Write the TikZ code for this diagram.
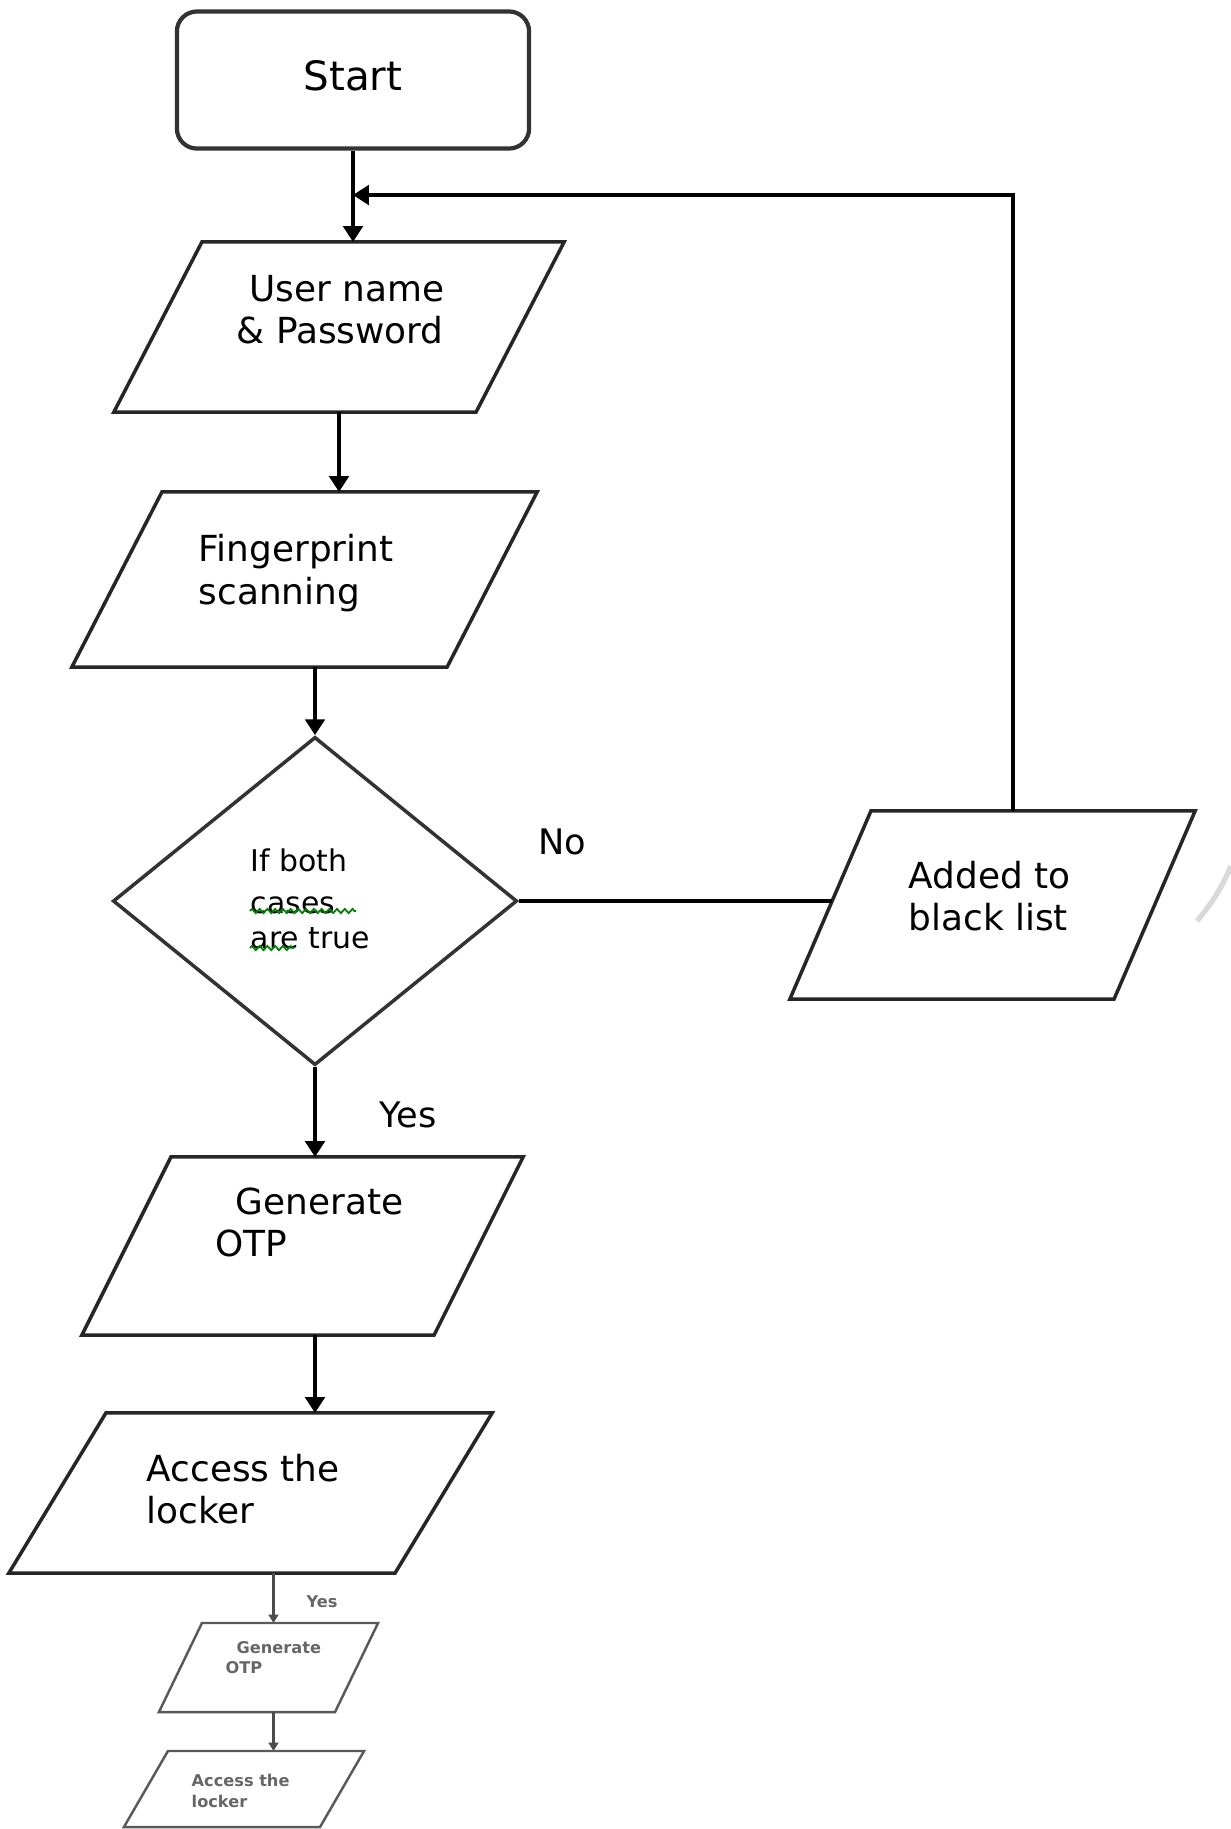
\documentclass[tikz,border=0pt]{standalone}
\usepackage{fontspec}
\setmainfont{DejaVu Sans}
\usetikzlibrary{shapes.geometric,arrows.meta,decorations.pathmorphing}

\tikzset{
	arr/.style={-{Triangle[width=5.5pt,length=4.5pt]}, line width=1.1pt},
	sarr/.style={-{Triangle[width=2.8pt,length=2.4pt]}, line width=0.7pt, black!70},
	boxline/.style={draw=black!85, line width=1pt},
	sboxline/.style={draw=black!65, line width=0.7pt},
	txt/.style={inner sep=0pt, anchor=west, align=left, font=\fontsize{10.2}{12}\selectfont},
	stxt/.style={txt, text=black!60, font=\bfseries\fontsize{4.6}{5.8}\selectfont},
	spell/.style={green!50!black, line width=0.5pt, decorate, decoration={zigzag, amplitude=0.6pt, segment length=2.2pt}}
}

% parallelogram: [line style]{name}{centre}{width}{height}{slant}
\newcommand{\iobox}[6][boxline]{%
	\node[minimum width=#4, minimum height=#5, inner sep=0pt, outer sep=0pt] (#2) at (#3) {};
	\draw[#1] ([xshift=#6]#2.north west) -- (#2.north east) -- ([xshift=-#6]#2.south east) -- (#2.south west) -- cycle;
}

\begin{document}
\begin{tikzpicture}[x=0.01cm, y=-0.01cm]
	\useasboundingbox (0,0) rectangle (1231,1829);

	% START
	\node[draw=black!80, line width=1.2pt, rounded corners=0.2cm, minimum width=3.52cm, minimum height=1.37cm, font=\fontsize{11.5}{12}\selectfont] (start) at (353,80) {\raisebox{0.1cm}{Start}};

	% INPUT BOXES
	\iobox{un}{339,327}{4.50cm}{1.70cm}{0.88cm}
	\node[txt] (un-t) at (236,310) {\hspace*{0.13cm}User name\\\& Password};

	\iobox{fp}{304.5,579.5}{4.65cm}{1.75cm}{0.90cm}
	\node[txt] (fp-t) at (198,573) {Fingerprint\\scanning};

	% DECISION
	\node[diamond, draw=black!80, line width=1pt, inner sep=0pt, minimum width=4.04cm, minimum height=3.28cm] (dec) at (315,901) {};
	\node[txt, font=\fontsize{8.5}{10}\selectfont] (dec-t) at (250,899) {If both\\[2pt]cases\\are true};
	\draw[spell] (250,911) -- (356,911);
	\draw[spell] (250,948) -- (294,948);

	\iobox{bl}{992.5,905}{4.05cm}{1.88cm}{0.81cm}
	\node[txt] (bl-t) at (908,896) {Added to\\black list};
	\coordinate (bl-in) at ([xshift=0.42cm]bl.west);

	\iobox{gen}{302.5,1246}{4.41cm}{1.78cm}{0.89cm}
	\node[txt] (gen-t) at (215,1222.5) {\hspace*{0.2cm}Generate\\OTP};

	\iobox{acc}{250.5,1493}{4.83cm}{1.60cm}{0.97cm}
	\node[txt] (acc-t) at (146,1489.5) {Access the\\locker};

	% SMALL COPY
	\iobox[sboxline]{gen2}{268.5,1667.5}{2.19cm}{0.89cm}{0.43cm}
	\node[stxt] (gen2-t) at (225,1657.5) {\hspace*{0.11cm}Generate\\OTP};

	\iobox[sboxline]{acc2}{244,1789}{2.40cm}{0.76cm}{0.44cm}
	\node[stxt] (acc2-t) at (191,1791) {Access the\\locker};

	% LABELS
	\node[font=\fontsize{10}{12}\selectfont] (no) at (562,842) {No};
	\node[font=\fontsize{10}{12}\selectfont] (yes) at (408,1115) {Yes};
	\node[stxt, anchor=center] (syes) at (322,1602) {Yes};

	% CONNECTORS
	\coordinate (back) at (1013,195);
	\coordinate (sx) at ([xshift=0.05cm]gen2.north);
	\draw[arr] (start.south) -- (start.south |- un.north);
	\draw[arr] (back |- bl.north) -- (back) -- (start.south |- back);
	\draw[arr] (un.south) -- (un.south |- fp.north);
	\draw[arr] (dec.north |- fp.south) -- (dec.north);
	\draw[line width=1.1pt] (dec.east) -- (dec.east -| bl-in);
	\draw[arr] (dec.south) -- (dec.south |- gen.north);
	\draw[arr] (dec.south |- gen.south) -- (dec.south |- acc.north);
	\draw[sarr] (sx |- acc.south) -- (sx);
	\draw[sarr] (sx |- gen2.south) -- (sx |- acc2.north);

	\draw[black!15, line width=1.5pt] (1197,921) to[bend right=8] (1231,866);
\end{tikzpicture}
\end{document}
